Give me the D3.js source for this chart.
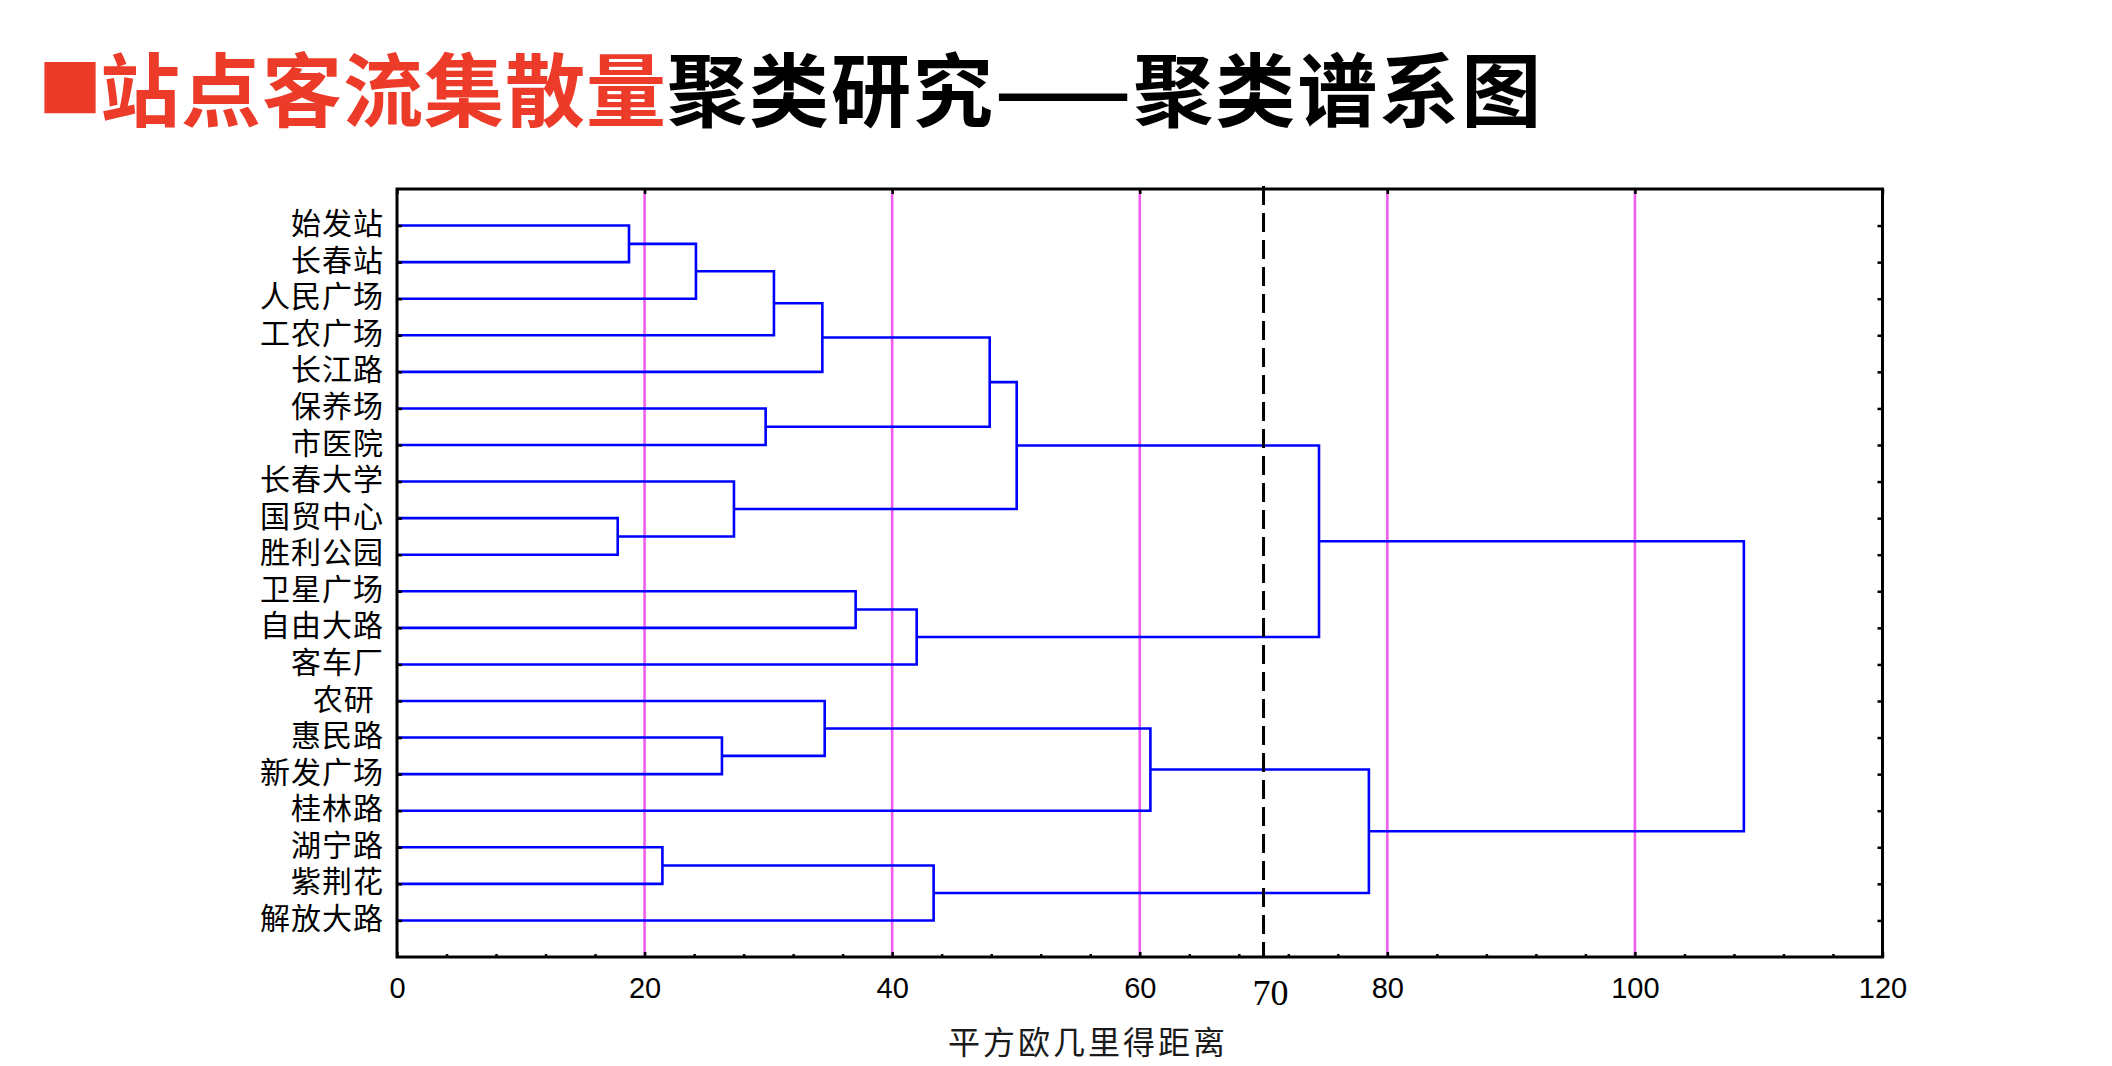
<!DOCTYPE html>
<html>
<head>
<meta charset="utf-8">
<script src="https://cdn.jsdelivr.net/npm/d3@7"></script>
<style>
body{margin:0;background:#fff}
svg{display:block}
</style>
</head>
<body>
<svg id="c" width="2112" height="1066"></svg>
<script>
// ---------- data ----------
const titleRed = "站点客流集散量";
const titleBlack = "聚类研究——聚类谱系图";
const xAxisTitle = "平方欧几里得距离";
const leaves = ["始发站","长春站","人民广场","工农广场","长江路","保养场","市医院","长春大学","国贸中心","胜利公园","卫星广场","自由大路","客车厂","农研 ","惠民路","新发广场","桂林路","湖宁路","紫荆花","解放大路"];
// linkage: node ids < 20 are leaves, ids >= 20 are earlier merges (20 + merge index)
const mergeA = [0,20,21,22,5,8,7,23,27,10,29,28,14,13,33,17,35,34,31];
const mergeB = [1,2,3,4,6,9,25,24,26,11,12,30,15,32,16,18,19,36,37];
const mergeHeight = [18.74,24.15,30.45,34.36,29.78,17.83,27.22,47.88,50.06,37.05,41.98,74.48,26.25,34.55,60.86,21.44,43.35,78.51,108.8];
const majorTicks = [0,20,40,60,80,100,120];
const minorTicks = [4,8,12,16,24,28,32,36,44,48,52,56,64,68,72,76,84,88,92,96,104,108,112,116];
const refLines = [20,40,60,80,100];
const cutLine = 70;
const cutLabel = "70";

// ---------- layout ----------
const svg = d3.select("#c");
const M = {left:397, right:1882.5, top:189, bottom:957};
const x = d3.scaleLinear().domain([0,120]).range([M.left, M.right]);
const yPt = d3.scalePoint().domain(leaves).range([M.top, M.bottom]).padding(1);
const yLin = d3.scaleLinear().domain([-1, leaves.length]).range([M.top, M.bottom]);
const cjkStack = "'Liberation Sans', 'Noto Sans CJK SC', sans-serif";

svg.append("rect").attr("width",2112).attr("height",1066).attr("fill","#fff");

// ---------- title ----------
svg.append("text")
  .attr("x",70).attr("y",112)
  .attr("text-anchor","middle")
  .attr("font-family","Noto Sans CJK SC")
  .attr("font-size",64)
  .attr("fill","#ec3b28")
  .text("■");
const t = svg.append("text")
  .attr("x",100).attr("y",120)
  .attr("font-family","Noto Sans CJK SC")
  .attr("font-weight","bold")
  .attr("font-size",80);
t.append("tspan").attr("fill","#ec3b28").attr("letter-spacing","1px").text(titleRed);
t.append("tspan").attr("fill","#000").attr("letter-spacing","2px").text(titleBlack);

// ---------- magenta reference lines ----------
svg.append("g").selectAll("line").data(refLines).join("line")
  .attr("x1",d=>x(d)).attr("x2",d=>x(d))
  .attr("y1",M.top).attr("y2",M.bottom)
  .attr("stroke","#f05ef0").attr("stroke-width",2.6);

// ---------- dendrogram ----------
const pos = [], hgt = [];
leaves.forEach((d,i)=>{pos[i]=i; hgt[i]=0;});
mergeHeight.forEach((h,k)=>{
  const a = mergeA[k], b = mergeB[k];
  pos[leaves.length+k] = (pos[a]+pos[b])/2;
  hgt[leaves.length+k] = h;
});
svg.append("g").selectAll("path").data(mergeHeight.map((h,k)=>k)).join("path")
  .attr("d",k=>{
    const a = mergeA[k], b = mergeB[k], h = mergeHeight[k];
    const p = d3.path();
    p.moveTo(x(hgt[a]), yLin(pos[a]));
    p.lineTo(x(h), yLin(pos[a]));
    p.lineTo(x(h), yLin(pos[b]));
    p.lineTo(x(hgt[b]), yLin(pos[b]));
    return p.toString();
  })
  .attr("fill","none").attr("stroke","#0000ff").attr("stroke-width",2.6)
  .attr("stroke-linejoin","miter");

// ---------- cut line ----------
svg.append("line")
  .attr("x1",x(cutLine)).attr("x2",x(cutLine))
  .attr("y1",M.top-3).attr("y2",M.bottom)
  .attr("stroke","#000").attr("stroke-width",3)
  .attr("stroke-dasharray","19,8");

// ---------- axes ----------
function styleTicks(g){
  g.select(".domain").remove();
  g.selectAll(".tick line").attr("stroke","#000").attr("stroke-width",2.5);
}
// bottom labels
const gb = svg.append("g").attr("transform",`translate(0,${M.bottom})`)
  .call(d3.axisBottom(x).tickValues(majorTicks).tickSize(0).tickPadding(20).tickFormat(d3.format("d")));
gb.select(".domain").remove();
gb.selectAll("text").attr("font-family","Liberation Sans, Arial, sans-serif").attr("font-size",29).attr("fill","#000");
// bottom inner ticks
svg.append("g").attr("transform",`translate(0,${M.bottom})`)
  .call(d3.axisBottom(x).tickValues(majorTicks).tickSize(-5).tickFormat("")).call(styleTicks);
svg.append("g").attr("transform",`translate(0,${M.bottom})`)
  .call(d3.axisBottom(x).tickValues(minorTicks).tickSize(-3).tickFormat("")).call(styleTicks);
// top ticks
svg.append("g").attr("transform",`translate(0,${M.top})`)
  .call(d3.axisTop(x).tickValues(majorTicks).tickSize(-5).tickFormat("")).call(styleTicks);
// left axis with leaf labels
const gl = svg.append("g").attr("transform",`translate(${M.left},0)`)
  .call(d3.axisLeft(yPt).tickSize(-5).tickPadding(13));
gl.call(styleTicks);
gl.selectAll("text")
  .attr("font-family",cjkStack)
  .attr("font-size",30)
  .attr("letter-spacing","1px")
  .attr("fill","#000")
  .attr("dy","0.27em")
  .style("white-space","pre");
// right ticks
svg.append("g").attr("transform",`translate(${M.right},0)`)
  .call(d3.axisRight(yPt).tickSize(-5).tickFormat("")).call(styleTicks);

// frame
svg.append("rect")
  .attr("x",M.left).attr("y",M.top)
  .attr("width",M.right-M.left).attr("height",M.bottom-M.top)
  .attr("fill","none").attr("stroke","#000").attr("stroke-width",3);

// cut label
svg.append("text")
  .attr("x",x(cutLine)+7).attr("y",1005)
  .attr("text-anchor","middle")
  .attr("font-family","Liberation Serif, Times New Roman, serif")
  .attr("font-size",36)
  .attr("fill","#000")
  .text(cutLabel);

// x axis title
svg.append("text")
  .attr("x",948).attr("y",1054)
  .attr("font-family","Noto Sans CJK SC")
  .attr("font-size",32)
  .attr("letter-spacing","3px")
  .attr("fill","#1a1a1a")
  .text(xAxisTitle);
</script>
</body>
</html>
